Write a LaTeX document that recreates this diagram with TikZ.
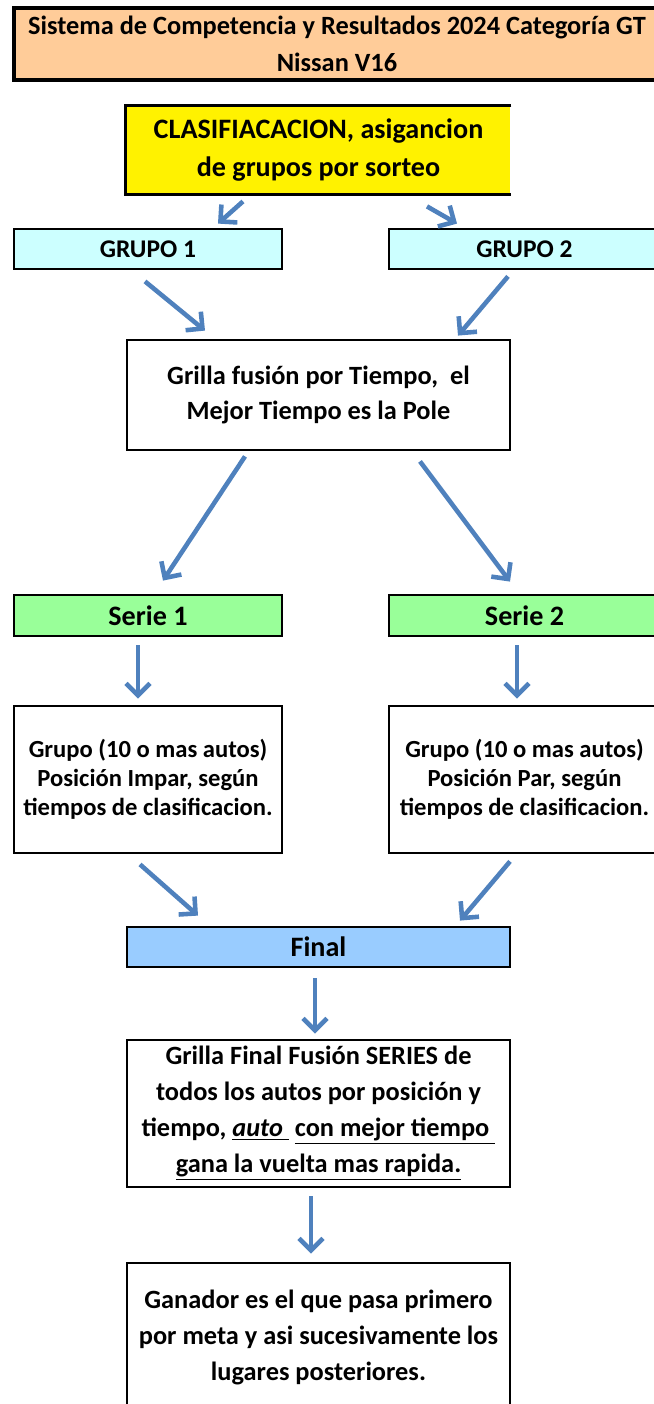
\documentclass[tikz,border=0pt]{standalone}
\usepackage{fontspec}
\setmainfont{Carlito}
\usepackage{xcolor}
\usetikzlibrary{arrows.meta,positioning}

\definecolor{naranja}{HTML}{FFCC99}
\definecolor{celeste}{HTML}{CCFFFF}
\definecolor{verde}{HTML}{99FF99}
\definecolor{azulclaro}{HTML}{99CCFF}
\definecolor{flechaazul}{HTML}{4F81BD}

\begin{document}
\begin{tikzpicture}[
    block/.style={rectangle, draw, line width=1.6pt, align=center, inner sep=0pt, minimum width=7.66cm, font=\bfseries\fontsize{15}{20.5}\selectfont},
    label/.style={block, minimum height=0.8cm, font=\bfseries\fontsize{14.5}{20}\selectfont},
    arrow/.style={-{Straight Barb[length=2.4mm,width=4.8mm]}, line width=2.6pt, flechaazul, line join=round}]

    \clip (0,0) rectangle (13.08,-28.08);

    \node[block, fill=naranja, line width=2pt, minimum width=12.92cm, minimum height=1.44cm, font=\bfseries\fontsize{15}{21}\selectfont] (titulo) at (6.74,-0.88) {Sistema de Competencia y Resultados 2024 Categoría GT\\Nissan V16};
    \node[block, draw=none, fill=yellow, minimum height=1.72cm, font=\bfseries\fontsize{16}{21.5}\selectfont] (sorteo) at (6.37,-3.0) {CLASIFIACACION, asigancion\\de grupos por sorteo};
    % no border on the right side
    \draw[line width=1.6pt] (sorteo.north east) -- (sorteo.north west) -- (sorteo.south west) -- (sorteo.south east);

    \node[label, fill=celeste, minimum width=5.36cm] (grupo1) at (2.96,-4.98) {GRUPO 1};
    \node[label, fill=celeste, minimum width=5.42cm] (grupo2) at (10.49,-4.98) {GRUPO 2};

    \node[block, minimum height=2.2cm, font=\bfseries\fontsize{15}{20}\selectfont] (fusion) at (6.37,-7.9) {Grilla fusión por Tiempo,\ \ el\\Mejor Tiempo es la Pole};

    \node[label, fill=verde, minimum width=5.36cm, minimum height=0.82cm, font=\bfseries\fontsize{16}{20}\selectfont] (serie1) at (2.96,-12.31) {Serie 1};
    \node[label, fill=verde, minimum width=5.42cm, minimum height=0.82cm, font=\bfseries\fontsize{16}{20}\selectfont] (serie2) at (10.49,-12.31) {Serie 2};

    \node[block, minimum width=5.36cm, minimum height=2.94cm, font=\bfseries\fontsize{14}{16.5}\selectfont] (impar) at (2.96,-15.59) {Grupo (10 o mas autos)\\Posición Impar, según\\tiempos de clasificacion.};
    \node[block, minimum width=5.42cm, minimum height=2.94cm, font=\bfseries\fontsize{14}{16.5}\selectfont] (par) at (10.49,-15.59) {Grupo (10 o mas autos)\\Posición Par, según\\tiempos de clasificacion.};

    \node[label, fill=azulclaro, font=\bfseries\fontsize{16}{20}\selectfont] (final) at (6.37,-18.94) {Final};

    \node[block, minimum height=2.94cm] (grillafinal) at (6.37,-22.27) {Grilla Final Fusión SERIES de\\todos los autos por posición y\\tiempo, \underline{\textit{auto}\ } \underline{con mejor tiempo\ }\\\underline{gana la vuelta mas rapida.}};

    \node[block, minimum height=2.98cm] (ganador) at (6.37,-26.75) {Ganador es el que pasa primero\\por meta y asi sucesivamente los\\lugares posteriores.};

    % connectors
    \draw[arrow] ([xshift=-1.51cm,yshift=-0.14cm]sorteo.south) -- ([xshift=1.40cm,yshift=0.08cm]grupo1.north);
    \draw[arrow] ([xshift=2.17cm,yshift=-0.24cm]sorteo.south) -- ([xshift=-1.35cm,yshift=0.08cm]grupo2.north);
    \draw[arrow] ([xshift=-0.06cm,yshift=-0.22cm]grupo1.south) -- ([xshift=-2.27cm,yshift=0.16cm]fusion.north);
    \draw[arrow] ([xshift=-0.33cm,yshift=-0.12cm]grupo2.south) -- ([xshift=2.79cm,yshift=0.06cm]fusion.north);
    \draw[arrow] ([xshift=-1.47cm,yshift=-0.10cm]fusion.south) -- ([xshift=0.30cm,yshift=0.26cm]serie1.north);
    \draw[arrow] ([xshift=2.03cm,yshift=-0.20cm]fusion.south) -- ([xshift=-0.29cm,yshift=0.24cm]serie2.north);
    \draw[arrow] ([xshift=-0.20cm,yshift=-0.16cm]serie1.south) -- ([xshift=-0.20cm,yshift=0.12cm]impar.north);
    \draw[arrow] ([xshift=-0.15cm,yshift=-0.16cm]serie2.south) -- ([xshift=-0.15cm,yshift=0.12cm]par.north);
    \draw[arrow] ([xshift=-0.16cm,yshift=-0.20cm]impar.south) -- ([xshift=-2.41cm,yshift=0.20cm]final.north);
    \draw[arrow] ([xshift=-0.29cm,yshift=-0.14cm]par.south) -- ([xshift=2.83cm,yshift=0.10cm]final.north);
    \draw[arrow] ([xshift=-0.07cm,yshift=-0.20cm]final.south) -- ([xshift=-0.07cm,yshift=0.10cm]grillafinal.north);
    \draw[arrow] ([xshift=-0.15cm,yshift=-0.16cm]grillafinal.south) -- ([xshift=-0.15cm,yshift=0.16cm]ganador.north);

\end{tikzpicture}
\end{document}
